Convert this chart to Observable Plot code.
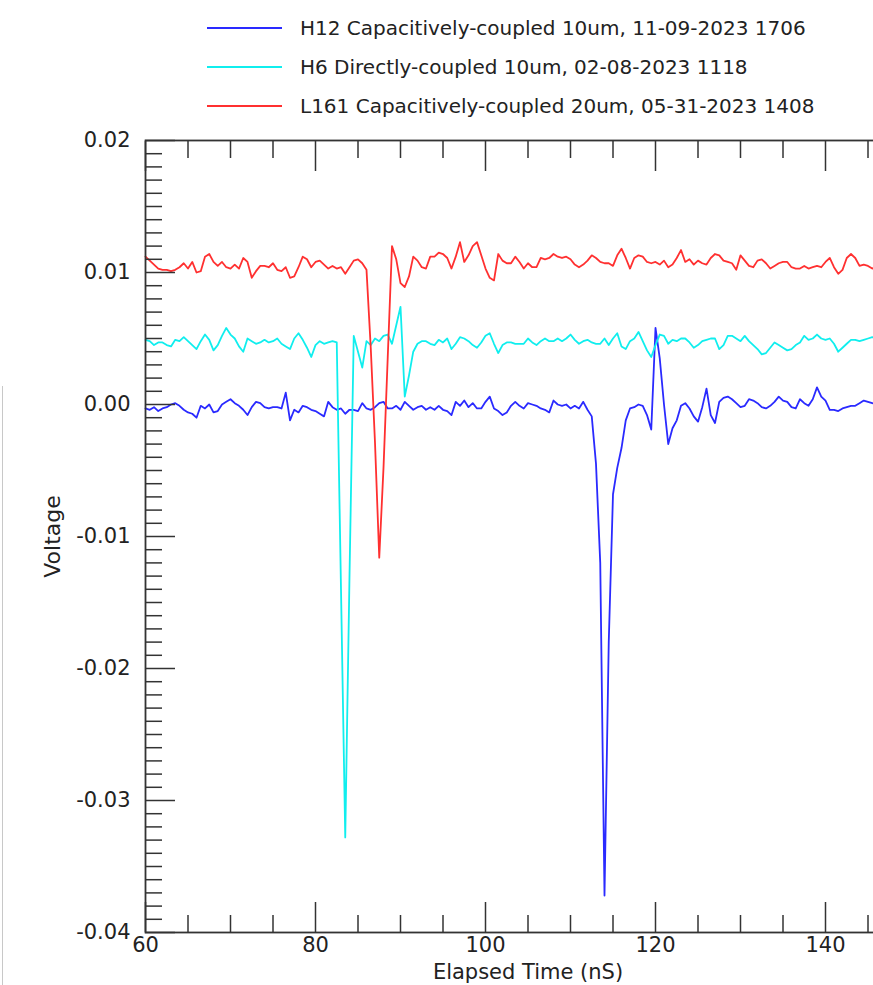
<!DOCTYPE html>
<html>
<head>
<meta charset="utf-8">
<script src="https://cdn.jsdelivr.net/npm/d3@7"></script>
<script src="https://cdn.jsdelivr.net/npm/@observablehq/plot@0.6"></script>
<style>
  html, body { margin: 0; padding: 0; background: #fff; overflow: hidden; }
  #page { position: relative; width: 873px; height: 985px; overflow: hidden; font-family: "DejaVu Sans", sans-serif; }
  #legend { height: 125px; box-sizing: border-box; padding-top: 8px; }
  .row { height: 39px; display: flex; align-items: center; font-size: 20px; color: #222; white-space: nowrap; }
  .swatch { width: 75px; height: 0; border-top: 2px solid; margin-left: 207px; margin-right: 18px; }
  #chart { width: 960px; }
  #chart svg { display: block; }
  #edge { position: absolute; left: 2px; top: 386px; width: 1px; height: 600px; background: #c8c8c8; }
</style>
</head>
<body>
<div id="page">
  <div id="legend"></div>
  <div id="chart"></div>
  <div id="edge"></div>
</div>
<script>
// Oscilloscope traces, sampled every 0.5 nS from 60 nS.
const seriesNames = [
  "H12 Capacitively-coupled 10um, 11-09-2023 1706",
  "H6 Directly-coupled 10um, 02-08-2023 1118",
  "L161 Capacitively-coupled 20um, 05-31-2023 1408"
];
const seriesColors = ["#2a2aff", "#10eeee", "#ff3030"];
const startTime = 60;
const sampleStep = 0.5;

// H12 (volts)
const h12 = [
  -0.0003, -0.0004, -0.0002, -0.0005, -0.0003, -0.0002, 0.0000, 0.0001, -0.0001, -0.0004,
  -0.0006, -0.0007, -0.0010, -0.0001, -0.0003, 0.0000, -0.0006, -0.0005, 0.0000, 0.0002,
  0.0004, 0.0001, -0.0001, -0.0004, -0.0008, -0.0002, 0.0002, 0.0001, -0.0002, -0.0003,
  -0.0002, -0.0002, -0.0003, 0.0009, -0.0012, -0.0004, -0.0006, -0.0001, -0.0002, -0.0004,
  -0.0005, -0.0007, -0.0009, 0.0002, -0.0002, -0.0004, -0.0003, -0.0007, -0.0004, -0.0004,
  -0.0005, 0.0001, -0.0003, -0.0004, -0.0002, 0.0001, 0.0002, -0.0003, -0.0003, -0.0001,
  -0.0004, 0.0002, -0.0001, -0.0004, -0.0002, -0.0001, -0.0004, -0.0002, -0.0004, -0.0001,
  -0.0004, -0.0005, -0.0008, 0.0002, -0.0001, 0.0003, -0.0002, 0.0001, -0.0003, -0.0003,
  0.0002, 0.0006, -0.0003, -0.0005, -0.0008, -0.0006, -0.0001, 0.0002, -0.0001, -0.0003,
  0.0001, 0.0000, -0.0001, -0.0003, -0.0004, -0.0006, 0.0003, 0.0000, -0.0001, 0.0000,
  -0.0003, -0.0001, -0.0003, 0.0002, -0.0004, -0.0009, -0.0045, -0.0120, -0.0372, -0.0180,
  -0.0068, -0.0048, -0.0033, -0.0012, -0.0003, -0.0002, 0.0000, -0.0001, -0.0008, -0.0019,
  0.0058, 0.0035, 0.0000, -0.0030, -0.0018, -0.0012, -0.0001, 0.0001, -0.0003, -0.0009,
  -0.0013, -0.0002, 0.0012, -0.0008, -0.0014, 0.0002, 0.0005, 0.0006, 0.0004, 0.0001,
  -0.0002, -0.0001, 0.0004, 0.0003, 0.0001, -0.0002, -0.0003, -0.0001, 0.0002, 0.0006,
  0.0003, 0.0002, -0.0002, -0.0003, 0.0004, 0.0001, -0.0001, 0.0004, 0.0013, 0.0006,
  0.0003, -0.0004, -0.0004, -0.0005, -0.0003, -0.0002, -0.0001, -0.0001, 0.0001, 0.0003,
  0.0002, 0.0001, 0.0000
];

// H6 (volts)
const h6 = [
  0.0049, 0.0048, 0.0045, 0.0047, 0.0047, 0.0045, 0.0044, 0.0049, 0.0048, 0.0051,
  0.0048, 0.0045, 0.0042, 0.0048, 0.0053, 0.0049, 0.0041, 0.0045, 0.0052, 0.0058,
  0.0053, 0.0050, 0.0044, 0.0040, 0.0050, 0.0048, 0.0046, 0.0047, 0.0049, 0.0047,
  0.0048, 0.0050, 0.0046, 0.0044, 0.0042, 0.0050, 0.0054, 0.0049, 0.0043, 0.0036,
  0.0045, 0.0048, 0.0046, 0.0047, 0.0048, 0.0047, -0.0140, -0.0328, -0.0130, 0.0052,
  0.0040, 0.0028, 0.0048, 0.0045, 0.0050, 0.0048, 0.0052, 0.0053, 0.0046, 0.0060,
  0.0074, 0.0006, 0.0022, 0.0040, 0.0046, 0.0048, 0.0048, 0.0046, 0.0045, 0.0049,
  0.0047, 0.0050, 0.0042, 0.0046, 0.0051, 0.0050, 0.0048, 0.0045, 0.0043, 0.0047,
  0.0052, 0.0054, 0.0046, 0.0039, 0.0045, 0.0047, 0.0047, 0.0046, 0.0046, 0.0046,
  0.0050, 0.0047, 0.0045, 0.0048, 0.0050, 0.0048, 0.0048, 0.0050, 0.0048, 0.0050,
  0.0053, 0.0049, 0.0046, 0.0048, 0.0049, 0.0047, 0.0046, 0.0046, 0.0050, 0.0045,
  0.0050, 0.0054, 0.0044, 0.0042, 0.0048, 0.0050, 0.0055, 0.0048, 0.0041, 0.0036,
  0.0045, 0.0053, 0.0052, 0.0046, 0.0049, 0.0048, 0.0050, 0.0050, 0.0047, 0.0043,
  0.0045, 0.0048, 0.0049, 0.0050, 0.0050, 0.0042, 0.0045, 0.0052, 0.0052, 0.0050,
  0.0048, 0.0052, 0.0048, 0.0045, 0.0042, 0.0038, 0.0039, 0.0043, 0.0047, 0.0045,
  0.0043, 0.0041, 0.0042, 0.0045, 0.0047, 0.0052, 0.0049, 0.0050, 0.0053, 0.0050,
  0.0049, 0.0050, 0.0046, 0.0040, 0.0043, 0.0046, 0.0049, 0.0049, 0.0048, 0.0049,
  0.0050, 0.0051, 0.0050
];

// L161 (volts)
const l161 = [
  0.0112, 0.0109, 0.0106, 0.0103, 0.0102, 0.0102, 0.0101, 0.0102, 0.0104, 0.0107,
  0.0103, 0.0108, 0.0100, 0.0101, 0.0112, 0.0114, 0.0108, 0.0105, 0.0108, 0.0104,
  0.0103, 0.0106, 0.0103, 0.0111, 0.0108, 0.0096, 0.0101, 0.0105, 0.0105, 0.0104,
  0.0107, 0.0102, 0.0101, 0.0104, 0.0096, 0.0097, 0.0104, 0.0112, 0.0110, 0.0104,
  0.0108, 0.0109, 0.0106, 0.0103, 0.0105, 0.0103, 0.0104, 0.0099, 0.0104, 0.0109,
  0.0110, 0.0107, 0.0102, 0.0043, -0.0029, -0.0116, -0.0048, 0.0036, 0.0120, 0.0110,
  0.0092, 0.0089, 0.0097, 0.0112, 0.0109, 0.0104, 0.0103, 0.0112, 0.0112, 0.0115,
  0.0114, 0.0111, 0.0103, 0.0112, 0.0123, 0.0108, 0.0113, 0.0120, 0.0123, 0.0113,
  0.0103, 0.0096, 0.0094, 0.0114, 0.0109, 0.0107, 0.0107, 0.0112, 0.0108, 0.0103,
  0.0107, 0.0104, 0.0104, 0.0111, 0.0110, 0.0111, 0.0114, 0.0112, 0.0111, 0.0112,
  0.0110, 0.0106, 0.0104, 0.0106, 0.0109, 0.0113, 0.0111, 0.0108, 0.0107, 0.0107,
  0.0105, 0.0113, 0.0118, 0.0111, 0.0103, 0.0111, 0.0113, 0.0112, 0.0108, 0.0107,
  0.0108, 0.0106, 0.0109, 0.0104, 0.0106, 0.0111, 0.0117, 0.0108, 0.0110, 0.0106,
  0.0109, 0.0107, 0.0106, 0.0111, 0.0114, 0.0113, 0.0109, 0.0108, 0.0107, 0.0102,
  0.0113, 0.0109, 0.0105, 0.0104, 0.0109, 0.0110, 0.0107, 0.0103, 0.0105, 0.0107,
  0.0108, 0.0108, 0.0104, 0.0103, 0.0103, 0.0105, 0.0103, 0.0104, 0.0105, 0.0104,
  0.0108, 0.0111, 0.0104, 0.0099, 0.0102, 0.0111, 0.0114, 0.0111, 0.0105, 0.0106,
  0.0105, 0.0103, 0.0104
];

// Axis ticks
const xMajorTicks = [60, 80, 100, 120, 140];
const xMinorTicks = [65, 70, 75, 85, 90, 95, 105, 110, 115, 125, 130, 135, 145];
const yMajorTicks = [-0.04, -0.03, -0.02, -0.01, 0, 0.01, 0.02];
const yMinorTicks = d3.range(-40, 21).filter(i => i % 10 !== 0).map(i => i / 1000);

const traces = [h12, h6, l161].flatMap((values, k) =>
  values.map((v, i) => ({ t: startTime + i * sampleStep, v, series: seriesNames[k] }))
);

// Legend
const legend = d3.select("#legend");
seriesNames.forEach((name, k) => {
  const row = legend.append("div").attr("class", "row");
  row.append("span").attr("class", "swatch").style("border-top-color", seriesColors[k]);
  row.append("span").text(name);
});

const tickStyle = { stroke: "#333", strokeWidth: 1.5, fill: "#222", label: null };
const noLabel = () => "";

const chart = Plot.plot({
  width: 960,
  height: 860,
  marginTop: 15,
  marginBottom: 53,
  marginLeft: 145,
  marginRight: 50,
  style: { fontFamily: "DejaVu Sans, sans-serif", maxWidth: "none", overflow: "visible", background: "white" },
  x: { domain: [60, 150] },
  y: { domain: [-0.04, 0.02] },
  color: { domain: seriesNames, range: seriesColors },
  marks: [
    Plot.lineY(traces, { x: "t", y: "v", z: "series", stroke: "series", strokeWidth: 1.8 }),
    Plot.frame({ stroke: "#333", strokeWidth: 1.8 }),
    Plot.axisY(yMajorTicks, { ...tickStyle, anchor: "left", tickSize: -30, tickPadding: 45, fontSize: 21, tickFormat: d => d.toFixed(2) }),
    Plot.axisY(yMinorTicks, { ...tickStyle, anchor: "left", tickSize: -17, tickFormat: noLabel }),
    Plot.axisX(xMajorTicks, { ...tickStyle, anchor: "bottom", tickSize: -30, tickPadding: 35, fontSize: 21, tickFormat: d => String(d) }),
    Plot.axisX(xMinorTicks, { ...tickStyle, anchor: "bottom", tickSize: -17, tickFormat: noLabel }),
    Plot.axisX(xMajorTicks, { ...tickStyle, anchor: "top", tickSize: -30, tickFormat: noLabel }),
    Plot.axisX(xMinorTicks, { ...tickStyle, anchor: "top", tickSize: -17, tickFormat: noLabel }),
    Plot.text(["Voltage"], { text: d => d, frameAnchor: "left", textAnchor: "middle", rotate: -90, dx: -93, fontSize: 22, fill: "#222" }),
    Plot.text(["Elapsed Time (nS)"], { text: d => d, frameAnchor: "bottom", textAnchor: "middle", dy: 46, fontSize: 21, fill: "#222" })
  ]
});
document.getElementById("chart").appendChild(chart);
</script>
</body>
</html>
